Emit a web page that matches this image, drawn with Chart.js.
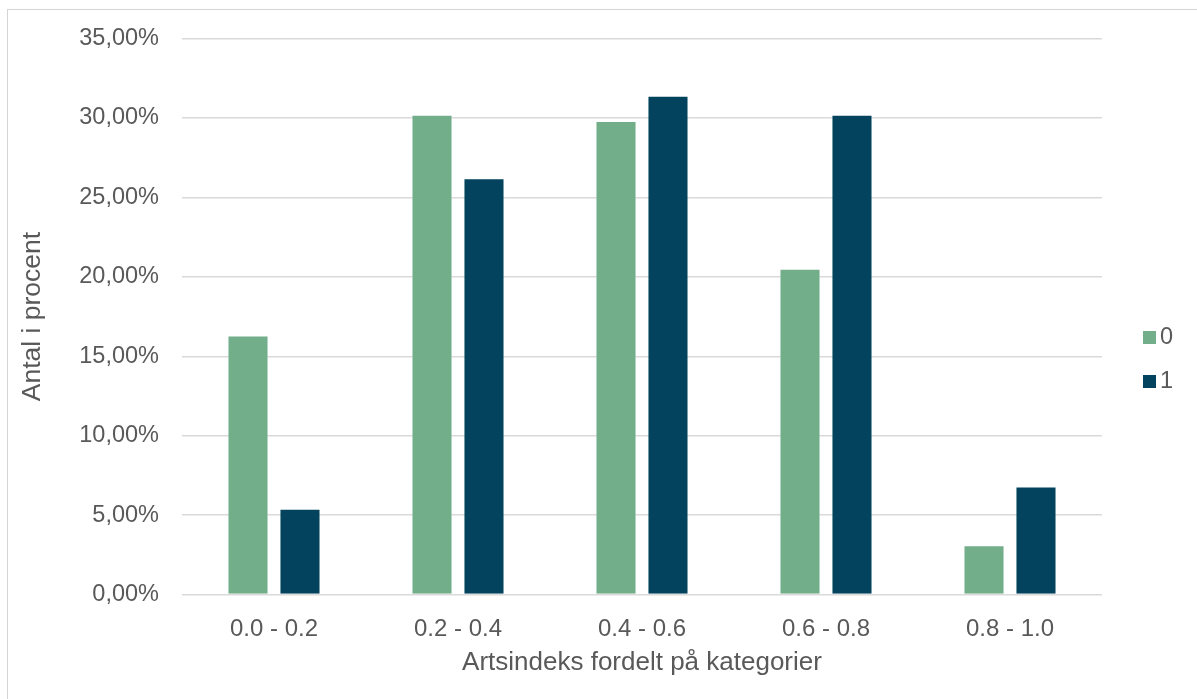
<!DOCTYPE html>
<html>
<head>
<meta charset="utf-8">
<script src="https://cdn.jsdelivr.net/npm/chart.js@4/dist/chart.umd.min.js"></script>
<style>
  html, body { margin: 0; padding: 0; background: #ffffff; }
  #wrap { position: relative; width: 1197px; height: 699px; overflow: hidden; }
  #frame { position: absolute; left: 7px; top: 9px; width: 1400px; height: 900px;
           border-left: 1px solid #d4d4d4; border-top: 1px solid #d4d4d4; }
  canvas { position: absolute; left: 0; top: 0; }
</style>
</head>
<body>
<div id="wrap">
  <div id="frame"></div>
  <canvas id="chart" width="1197" height="699"></canvas>
</div>
<script>
// Share of records per species-index band, in percent
const categories = ['0.0 - 0.2', '0.2 - 0.4', '0.4 - 0.6', '0.6 - 0.8', '0.8 - 1.0'];
const seriesNames = ['0', '1'];
const series0 = [16.3, 30.2, 29.8, 20.5, 3.1];
const series1 = [5.4, 26.2, 31.4, 30.2, 6.8];
const yTicks = [0, 5, 10, 15, 20, 25, 30, 35];

const colors = ['#72AE8A', '#03435E'];
const textColor = '#595959';
const fontFamily = '"Liberation Sans", Arial, sans-serif';

const fmtPct = v => v.toFixed(2).replace('.', ',') + '%';

// Legend drawn at the right, one square swatch + label per dataset
const sideLegend = {
  id: 'sideLegend',
  afterDraw(chart) {
    const ctx = chart.ctx;
    ctx.save();
    ctx.font = '23.5px ' + fontFamily;
    ctx.textBaseline = 'middle';
    ctx.textAlign = 'left';
    chart.data.datasets.forEach((ds, i) => {
      const y = 331 + i * 44;
      ctx.fillStyle = ds.backgroundColor;
      ctx.fillRect(1143, y, 13, 13);
      ctx.fillStyle = textColor;
      ctx.fillText(ds.label, 1160, y + 7);
    });
    ctx.restore();
  }
};

new Chart(document.getElementById('chart'), {
  type: 'bar',
  data: {
    labels: categories,
    datasets: [
      { label: seriesNames[0], data: series0, backgroundColor: colors[0],
        borderColor: 'rgba(255,255,255,0.35)', borderWidth: 1, borderSkipped: 'start' },
      { label: seriesNames[1], data: series1, backgroundColor: colors[1],
        borderColor: 'rgba(255,255,255,0.35)', borderWidth: 1, borderSkipped: 'start' }
    ]
  },
  options: {
    responsive: false,
    animation: false,
    devicePixelRatio: 1,
    layout: { padding: { left: 0, top: 38.5, right: 95, bottom: 0 } },
    datasets: { bar: { categoryPercentage: 0.565, barPercentage: 0.79 } },
    plugins: {
      legend: { display: false },
      tooltip: { enabled: false }
    },
    scales: {
      x: {
        grid: { display: false },
        border: { display: false },
        ticks: { color: textColor, font: { family: fontFamily, size: 24 }, padding: 12 },
        title: { display: true, text: 'Artsindeks fordelt på kategorier', color: textColor,
                 font: { family: fontFamily, size: 26 }, padding: { top: 0, bottom: 21 } },
        afterFit(scale) { scale.height = 104.5; }
      },
      y: {
        min: 0,
        max: 35,
        afterBuildTicks(scale) { scale.ticks = yTicks.map(v => ({ value: v })); },
        grid: { color: '#d9d9d9', lineWidth: 1.4, drawTicks: false },
        border: { display: false },
        ticks: { color: textColor, font: { family: fontFamily, size: 23.5 }, padding: 23,
                 callback: v => fmtPct(v) },
        title: { display: true, text: 'Antal i procent', color: textColor,
                 font: { family: fontFamily, size: 26.5 }, padding: { top: 17, bottom: 0 } },
        afterFit(scale) { scale.width = 182; }
      }
    }
  },
  plugins: [sideLegend]
});
</script>
</body>
</html>
